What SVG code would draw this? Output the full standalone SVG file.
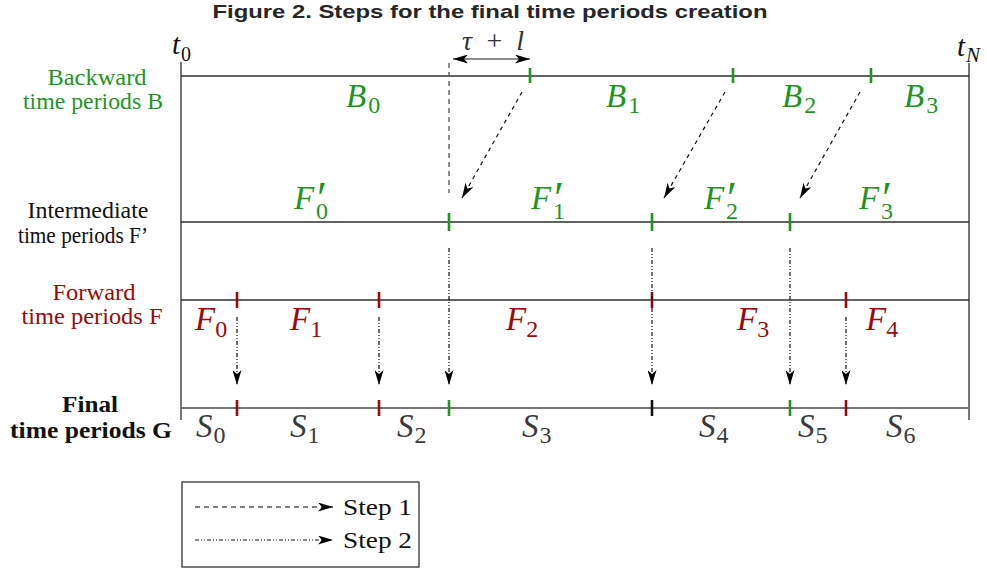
<svg xmlns="http://www.w3.org/2000/svg" width="987" height="569" viewBox="0 0 987 569">
<style>
.ax{stroke:#2e2e2e;stroke-width:1.3;fill:none}
.gax{stroke:#777;stroke-width:2;fill:none}
.tg{stroke:#1e961e;stroke-width:2.6}
.tr{stroke:#9a0a0a;stroke-width:2.6}
.tk{stroke:#111;stroke-width:2.6}
.s1{stroke:#111;stroke-width:1.2;stroke-dasharray:4 4;fill:none}
.s1g{stroke:#555;stroke-width:1.3;stroke-dasharray:5 4;fill:none}
.s2{stroke:#111;stroke-width:1.2;stroke-dasharray:4 2 1 2 1 2;fill:none}
.lab{font-family:"Liberation Serif","Times New Roman",serif;font-size:23px;text-anchor:middle}
.leg{font-family:"Liberation Serif","Times New Roman",serif;font-size:24px;text-anchor:start}
.bold{font-weight:bold;font-size:24px}
.mi{font-family:"Liberation Serif","Times New Roman",serif;font-style:italic;font-size:33px}
.sub{font-style:normal;font-size:24px}
.pr{font-style:normal;font-size:46px}
.g{fill:#1e961e}
.r{fill:#9a0a0a}
.s{fill:#3a3a3a}
.k{fill:#111}
</style>
<defs>
<marker id="ah" viewBox="0 0 15 9" refX="15" refY="4.5" markerWidth="15" markerHeight="9" markerUnits="userSpaceOnUse" orient="auto-start-reverse">
<path d="M0,0 L15,4.5 L0,9 L4,4.5 Z" fill="#000"/>
</marker>
</defs>
<rect width="987" height="569" fill="#fff"/>
<text x="490" y="18" font-family="Liberation Sans, Arial, sans-serif" font-weight="bold" font-size="19" fill="#262626" text-anchor="middle" textLength="555" lengthAdjust="spacingAndGlyphs">Figure 2. Steps for the final time periods creation</text>

<g id="axes">
<line class="ax" x1="181" y1="62" x2="181" y2="420"/>
<line class="ax" x1="969" y1="63" x2="969" y2="420"/>
<line class="ax" x1="181" y1="76" x2="969" y2="76"/>
<line class="ax" x1="181" y1="222" x2="969" y2="222"/>
<line class="ax" x1="181" y1="300" x2="969" y2="300"/>
<line class="gax" x1="181" y1="408" x2="969" y2="408"/>
</g>

<g id="axis-labels">
<text class="mi k" x="172" y="54" style="font-size:29px">t<tspan class="sub" dx="1" dy="7" style="font-size:20px">0</tspan></text>
<text class="mi k" x="957" y="56" style="font-size:29px">t<tspan dx="1" dy="6" style="font-size:21px">N</tspan></text>
<text class="mi" fill="#333" x="462" y="50" style="font-size:28px" textLength="62" lengthAdjust="spacing">τ + l</text>
</g>

<g id="row-labels">
<text class="lab g" x="97" y="85" textLength="99" lengthAdjust="spacingAndGlyphs">Backward</text>
<text class="lab g" x="93" y="109" textLength="140" lengthAdjust="spacingAndGlyphs">time periods B</text>
<text class="lab k" x="88" y="218" textLength="121" lengthAdjust="spacingAndGlyphs">Intermediate</text>
<text class="lab k" x="83" y="243" textLength="130" lengthAdjust="spacingAndGlyphs">time periods F’</text>
<text class="lab r" x="94" y="300" textLength="83" lengthAdjust="spacingAndGlyphs">Forward</text>
<text class="lab r" x="92" y="324" textLength="141" lengthAdjust="spacingAndGlyphs">time periods F</text>
<text class="lab bold k" x="90" y="412" textLength="56" lengthAdjust="spacingAndGlyphs">Final</text>
<text class="lab bold k" x="91" y="438" textLength="162" lengthAdjust="spacingAndGlyphs">time periods G</text>
</g>

<g id="ticks">
<line class="tg" x1="530" y1="68" x2="530" y2="83"/>
<line class="tg" x1="733" y1="68" x2="733" y2="83"/>
<line class="tg" x1="871" y1="68" x2="871" y2="83"/>
<line class="tg" x1="449" y1="213" x2="449" y2="231"/>
<line class="tg" x1="652" y1="213" x2="652" y2="231"/>
<line class="tg" x1="790" y1="213" x2="790" y2="231"/>
<line class="tr" x1="237" y1="292" x2="237" y2="308"/>
<line class="tr" x1="379" y1="292" x2="379" y2="308"/>
<line class="tr" x1="652" y1="292" x2="652" y2="308"/>
<line class="tr" x1="846" y1="292" x2="846" y2="308"/>
<line class="tr" x1="237" y1="400" x2="237" y2="416"/>
<line class="tr" x1="379" y1="400" x2="379" y2="416"/>
<line class="tg" x1="449" y1="400" x2="449" y2="416"/>
<line class="tk" x1="652" y1="400" x2="652" y2="416"/>
<line class="tg" x1="790" y1="400" x2="790" y2="416"/>
<line class="tr" x1="846" y1="400" x2="846" y2="416"/>
</g>

<g id="connectors">
<line x1="453" y1="59" x2="530" y2="59" stroke="#666" stroke-width="1.5" marker-start="url(#ah)" marker-end="url(#ah)"/>
<line class="s1g" x1="449" y1="63" x2="449" y2="193"/>
<line class="s1" x1="522" y1="92" x2="462" y2="198" marker-end="url(#ah)"/>
<line class="s1" x1="725" y1="92" x2="664" y2="198" marker-end="url(#ah)"/>
<line class="s1" x1="860" y1="92" x2="800" y2="198" marker-end="url(#ah)"/>
<line class="s2" x1="237" y1="317" x2="237" y2="385" marker-end="url(#ah)"/>
<line class="s2" x1="379" y1="317" x2="379" y2="385" marker-end="url(#ah)"/>
<line class="s2" x1="449" y1="248" x2="449" y2="385" marker-end="url(#ah)"/>
<line class="s2" x1="652" y1="248" x2="652" y2="385" marker-end="url(#ah)"/>
<line class="s2" x1="790" y1="248" x2="790" y2="385" marker-end="url(#ah)"/>
<line class="s2" x1="846" y1="317" x2="846" y2="385" marker-end="url(#ah)"/>
</g>

<g id="B-labels">
<text class="mi g" x="346" y="107">B<tspan class="sub" dx="2" dy="6">0</tspan></text>
<text class="mi g" x="606" y="107">B<tspan class="sub" dx="2" dy="6">1</tspan></text>
<text class="mi g" x="782" y="107">B<tspan class="sub" dx="2" dy="6">2</tspan></text>
<text class="mi g" x="904" y="107">B<tspan class="sub" dx="2" dy="6">3</tspan></text>
</g>

<g id="Fp-labels">
<text id="Fp0" class="mi g" x="294" y="209">F<tspan class="pr" x="317" y="214">′</tspan><tspan class="sub" x="316" y="219">0</tspan></text>
<text id="Fp1" class="mi g" x="531" y="209">F<tspan class="pr" x="554" y="214">′</tspan><tspan class="sub" x="553" y="219">1</tspan></text>
<text id="Fp2" class="mi g" x="704" y="209">F<tspan class="pr" x="727" y="214">′</tspan><tspan class="sub" x="726" y="219">2</tspan></text>
<text id="Fp3" class="mi g" x="859" y="209">F<tspan class="pr" x="882" y="214">′</tspan><tspan class="sub" x="881" y="219">3</tspan></text>
</g>

<g id="F-labels">
<text class="mi r" x="195" y="330">F<tspan class="sub" dx="0" dy="7">0</tspan></text>
<text class="mi r" x="290" y="330">F<tspan class="sub" dx="0" dy="7">1</tspan></text>
<text class="mi r" x="506" y="330">F<tspan class="sub" dx="0" dy="7">2</tspan></text>
<text class="mi r" x="737" y="330">F<tspan class="sub" dx="0" dy="7">3</tspan></text>
<text class="mi r" x="866" y="330">F<tspan class="sub" dx="0" dy="7">4</tspan></text>
</g>

<g id="S-labels">
<text class="mi s" x="196" y="437">S<tspan class="sub" dx="1" dy="6">0</tspan></text>
<text class="mi s" x="290" y="437">S<tspan class="sub" dx="1" dy="6">1</tspan></text>
<text class="mi s" x="397" y="437">S<tspan class="sub" dx="1" dy="6">2</tspan></text>
<text class="mi s" x="522" y="437">S<tspan class="sub" dx="1" dy="6">3</tspan></text>
<text class="mi s" x="699" y="437">S<tspan class="sub" dx="1" dy="6">4</tspan></text>
<text class="mi s" x="798" y="437">S<tspan class="sub" dx="1" dy="6">5</tspan></text>
<text class="mi s" x="886" y="437">S<tspan class="sub" dx="1" dy="6">6</tspan></text>
</g>

<g id="legend">
<rect x="182" y="482" width="237" height="85" fill="none" stroke="#333" stroke-width="1.3"/>
<line class="s1g" x1="195" y1="507" x2="333" y2="507" marker-end="url(#ah)"/>
<text class="leg k" x="343" y="515" textLength="69" lengthAdjust="spacingAndGlyphs">Step 1</text>
<line class="s2" x1="195" y1="540" x2="333" y2="540" marker-end="url(#ah)"/>
<text class="leg k" x="343" y="548" textLength="69" lengthAdjust="spacingAndGlyphs">Step 2</text>
</g>
</svg>
